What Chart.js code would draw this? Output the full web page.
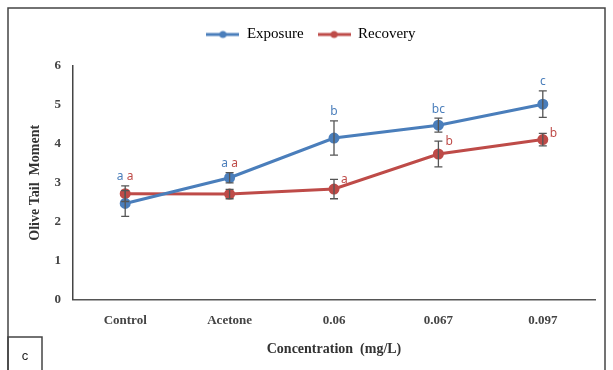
<!DOCTYPE html>
<html lang="en">
<head>
    <meta charset="UTF-8">
    <title>Olive Tail Moment</title>
    <script src="https://cdn.jsdelivr.net/npm/chart.js"></script>
    <style>
        body { margin: 0; background: #fff; }
        #wrap { width: 613px; height: 370px; }
    </style>
</head>
<body>
    <div id="wrap"><canvas id="tailChart" width="613" height="370"></canvas></div>

    <script>
        // chart values
        const categories = ['Control', 'Acetone', '0.06', '0.067', '0.097'];
        const exposure = [2.47, 3.13, 4.15, 4.48, 5.02];
        const exposureErr = [0.33, 0.13, 0.44, 0.18, 0.34];
        const recovery = [2.72, 2.71, 2.84, 3.74, 4.11];
        const recoveryErr = [0.2, 0.12, 0.25, 0.33, 0.16];
        const exposureLetters = ['a', 'a', 'b', 'bc', 'c'];
        const recoveryLetters = ['a', 'a', 'a', 'b', 'b'];
        const yTicks = [0, 1, 2, 3, 4, 5, 6];

        const blue = '#4a7ebb';
        const red = '#be4b48';

        // little line-with-dot icon for the legend
        function legendIcon(color) {
            const c = document.createElement('canvas');
            c.width = 33; c.height = 10;
            const g = c.getContext('2d');
            g.strokeStyle = color; g.lineWidth = 3;
            g.beginPath(); g.moveTo(0, 5); g.lineTo(33, 5); g.stroke();
            g.fillStyle = color;
            g.beginPath(); g.arc(16.5, 5, 3.5, 0, Math.PI * 2); g.fill();
            return c;
        }

        // push the plot down a bit below the legend
        const legendGap = {
            id: 'legendGap',
            beforeInit(chart) {
                const fit = chart.legend.fit;
                chart.legend.fit = function () {
                    fit.bind(chart.legend)();
                    this.height += 14;
                };
            }
        };

        // error bars + significance letters
        const extras = {
            id: 'extras',
            afterDatasetsDraw(chart) {
                const ctx = chart.ctx;
                const x = chart.scales.x, y = chart.scales.y;
                ctx.save();
                ctx.strokeStyle = '#555';
                ctx.lineWidth = 1.3;
                const sets = [[exposure, exposureErr], [recovery, recoveryErr]];
                sets.forEach(([vals, errs]) => {
                    vals.forEach((v, i) => {
                        const px = x.getPixelForValue(i);
                        const t = y.getPixelForValue(v + errs[i]);
                        const b = y.getPixelForValue(v - errs[i]);
                        ctx.beginPath();
                        ctx.moveTo(px, t); ctx.lineTo(px, b);
                        ctx.moveTo(px - 4, t); ctx.lineTo(px + 4, t);
                        ctx.moveTo(px - 4, b); ctx.lineTo(px + 4, b);
                        ctx.stroke();
                    });
                });

                ctx.font = '12px "Noto Sans"';
                ctx.textBaseline = 'bottom';
                ctx.textAlign = 'center';
                ctx.fillStyle = blue;
                const firstTop = [];
                exposure.forEach((v, i) => {
                    const px = x.getPixelForValue(i);
                    let top = y.getPixelForValue(v + exposureErr[i]);
                    if (i < 2) top = Math.min(top, y.getPixelForValue(recovery[i] + recoveryErr[i]));
                    firstTop[i] = top;
                    ctx.fillText(exposureLetters[i], i < 2 ? px - 5 : px, top - 3);
                });
                ctx.fillStyle = red;
                recovery.forEach((v, i) => {
                    const px = x.getPixelForValue(i);
                    if (i < 2) {
                        // the first two sit beside the blue letter
                        ctx.textAlign = 'center';
                        ctx.fillText(recoveryLetters[i], px + 5, firstTop[i] - 3);
                    } else {
                        const top = y.getPixelForValue(v + recoveryErr[i]);
                        ctx.textAlign = 'left';
                        ctx.fillText(recoveryLetters[i], px + 7, top + 6);
                    }
                });
                ctx.restore();
            }
        };

        // outer frame and the "c" panel tag
        const frame = {
            id: 'frame',
            afterDraw(chart) {
                const ctx = chart.ctx;
                ctx.save();
                ctx.strokeStyle = '#444';
                ctx.lineWidth = 1.5;
                ctx.strokeRect(8, 8, 597, 380);
                ctx.strokeRect(8, 337, 34, 50);
                ctx.fillStyle = '#222';
                ctx.font = '13px "Liberation Sans"';
                ctx.textAlign = 'center';
                ctx.textBaseline = 'middle';
                ctx.fillText('c', 25, 356);
                ctx.restore();
            }
        };

        const ctx = document.getElementById('tailChart').getContext('2d');
        new Chart(ctx, {
            type: 'line',
            data: {
                labels: categories,
                datasets: [{
                    label: 'Exposure',
                    data: exposure,
                    borderColor: blue,
                    backgroundColor: blue,
                    borderWidth: 3,
                    pointRadius: 4
                }, {
                    label: 'Recovery',
                    data: recovery,
                    borderColor: red,
                    backgroundColor: red,
                    borderWidth: 3,
                    pointRadius: 4
                }]
            },
            options: {
                responsive: false,
                animation: false,
                layout: { padding: { left: 27, right: 18, top: 13, bottom: 12 } },
                scales: {
                    x: {
                        offset: true,
                        grid: { display: false, drawTicks: false },
                        border: { color: '#555', width: 1.5 },
                        ticks: { color: '#444', padding: 13, font: { family: 'Liberation Serif', size: 13, weight: 'bold' } },
                        title: { display: true, text: 'Concentration  (mg/L)', color: '#333', padding: 0, font: { family: 'Liberation Serif', size: 14, weight: 'bold' } }
                    },
                    y: {
                        min: 0,
                        max: 6,
                        afterBuildTicks: s => { s.ticks = yTicks.map(v => ({ value: v })); },
                        afterFit: s => { s.width = 46; },
                        grid: { display: false, drawTicks: false },
                        border: { color: '#444', width: 1.5 },
                        ticks: { color: '#444', padding: 12, font: { family: 'Liberation Serif', size: 13, weight: 'bold' } },
                        title: { display: true, text: 'Olive Tail  Moment', color: '#333', padding: 0, font: { family: 'Liberation Serif', size: 14, weight: 'bold' } }
                    }
                },
                plugins: {
                    legend: {
                        position: 'top',
                        labels: {
                            usePointStyle: true,
                            pointStyleWidth: 33,
                            generateLabels: chart => chart.data.datasets.map((d, i) => ({
                                text: d.label,
                                pointStyle: legendIcon(d.borderColor),
                                fillStyle: d.borderColor,
                                strokeStyle: d.borderColor,
                                lineWidth: 0,
                                datasetIndex: i
                            })),
                            color: '#333',
                            padding: 14,
                            font: { family: 'Liberation Serif', size: 15 }
                        }
                    },
                    tooltip: { enabled: false }
                }
            },
            plugins: [legendGap, extras, frame]
        });
    </script>
</body>
</html>
